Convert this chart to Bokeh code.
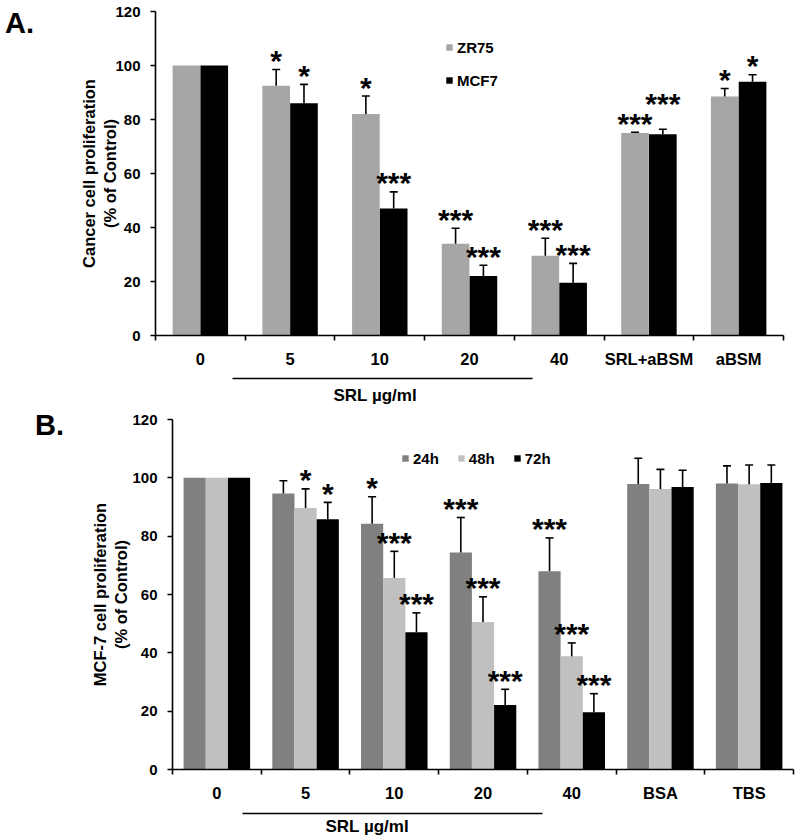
import numpy as np
from bokeh.plotting import figure
from bokeh.models import (ColumnDataSource, Whisker, TeeHead, FixedTicker, Legend,
                          LegendItem, LinearAxis, Range1d, Title, Div)
from bokeh.layouts import column, row
from bokeh.embed import file_html
from bokeh.resources import INLINE
from bokeh.core.properties import value

FONT = "Liberation Sans"

# ---------------- Panel A data ----------------
a_categories = ["0", "5", "10", "20", "40", "SRL+aBSM", "aBSM"]
a_series = ["ZR75", "MCF7"]
zr75 = [100, 92.5, 82.0, 34.0, 29.5, 75.0, 88.5]
zr75_err = [0, 6.0, 6.7, 5.7, 6.5, 0.3, 3.0]
zr75_sig = ["", "*", "*", "***", "***", "***", "*"]
mcf7 = [100, 86.0, 47.0, 22.0, 19.5, 74.5, 94.0]
mcf7_err = [0, 7.0, 6.2, 4.0, 7.2, 1.9, 2.6]
mcf7_sig = ["", "*", "***", "***", "***", "***", "*"]

# ---------------- Panel B data ----------------
b_categories = ["0", "5", "10", "20", "40", "BSA", "TBS"]
b_series = ["24h", "48h", "72h"]
h24 = [100, 94.6, 84.3, 74.4, 68.0, 97.9, 98.1]
h24_err = [0, 4.4, 9.2, 12.0, 11.4, 8.8, 6.0]
h24_sig = ["", "", "*", "***", "***", "", ""]
h48 = [100, 89.7, 65.7, 50.6, 38.8, 96.2, 97.8]
h48_err = [0, 6.5, 9.1, 8.6, 4.6, 6.7, 6.6]
h48_sig = ["", "*", "***", "***", "***", "", ""]
h72 = [100, 85.8, 47.1, 22.1, 19.6, 96.9, 98.2]
h72_err = [0, 5.8, 6.6, 5.4, 6.4, 5.7, 6.2]
h72_sig = ["", "*", "***", "***", "***", "", ""]

y_ticks = [0, 20, 40, 60, 80, 100, 120]
group_label = "SRL µg/ml"

STAR_PX = 11.7   # approx. advance of one bold 30px asterisk


def make_panel(cats, series, values, errs, sigs, colors, bar_w, offsets,
               width, height, left, right, top, bottom, ylabel, ylabel_standoff,
               group_span, pad_font, title_offset, title_standoff):
    n = len(cats)
    frame_w = width - left - right
    frame_h = height - top - bottom
    ppx = frame_w / n
    ppy = frame_h / 120.0
    p = figure(width=width, height=height, x_range=Range1d(0, n),
               y_range=Range1d(0, 120), output_backend="svg",
               toolbar_location=None, min_border_left=left,
               min_border_right=right, min_border_top=top,
               min_border_bottom=bottom)
    p.xgrid.visible = False
    p.ygrid.visible = False
    p.outline_line_color = None
    p.background_fill_color = "white"
    p.border_fill_color = "white"

    centers = np.arange(n) + 0.5
    renderers = []
    star_x, star_y, star_t = [], [], []
    last_star = {}
    for s, vals, er, sg, col, off in zip(series, values, errs, sigs, colors, offsets):
        xs = centers + off
        r = p.vbar(x=xs, top=vals, width=bar_w, bottom=0, fill_color=col,
                   line_color=None)
        renderers.append((s, r))
        keep = [i for i in range(n) if er[i] > 0]
        src = ColumnDataSource(dict(
            x=[xs[i] for i in keep],
            lower=[vals[i] for i in keep],
            upper=[vals[i] + er[i] for i in keep]))
        w = Whisker(base="x", lower="lower", upper="upper", source=src,
                    line_color="black", line_width=1.6,
                    upper_head=TeeHead(size=8, line_color="black", line_width=1.6),
                    lower_head=None, level="overlay")
        p.add_layout(w)
        for i in range(n):
            if not sg[i]:
                continue
            y = vals[i] + er[i]
            if i in last_star:
                px, py, pt = last_star[i]
                need = (len(pt) + len(sg[i])) * STAR_PX / 2.0
                if abs(xs[i] - px) * ppx < need and abs(y - py) * ppy < 18:
                    y = py + 20.0 / ppy   # stagger overlapping labels upward
            star_x.append(xs[i])
            star_y.append(y)
            star_t.append(sg[i])
            last_star[i] = (xs[i], y, sg[i])

    p.text(x=star_x, y=star_y, text=star_t, text_align="center",
           text_baseline="alphabetic", text_font=value(FONT),
           text_font_style="bold", text_font_size="30px", y_offset=-9,
           text_color="black")

    # y axis
    ya = p.yaxis[0]
    ya.ticker = FixedTicker(ticks=y_ticks)
    ya.major_tick_out = 5
    ya.major_tick_in = 0
    ya.minor_tick_line_color = None
    ya.axis_line_width = 1.6
    ya.major_tick_line_width = 1.6
    ya.axis_line_color = "black"
    ya.major_label_text_font = FONT
    ya.major_label_text_font_style = "bold"
    ya.major_label_text_font_size = "15px"
    ya.major_label_text_color = "black"
    ya.major_label_standoff = 10
    ya.axis_label = ylabel
    ya.axis_label_text_font = FONT
    ya.axis_label_text_font_style = "bold"
    ya.axis_label_text_font_size = "16.5px"
    ya.axis_label_text_color = "black"
    ya.axis_label_standoff = ylabel_standoff

    # x axis: labels at category centres, ticks at boundaries
    xa = p.xaxis[0]
    xa.ticker = FixedTicker(ticks=list(centers), minor_ticks=list(range(n + 1)))
    xa.major_label_overrides = {float(c): lab for c, lab in zip(centers, cats)}
    xa.major_tick_line_color = None
    xa.major_tick_out = 5
    xa.major_tick_in = 0
    xa.minor_tick_out = 5
    xa.minor_tick_in = 0
    xa.minor_tick_line_color = "black"
    xa.minor_tick_line_width = 1.6
    xa.axis_line_width = 1.6
    xa.axis_line_color = "black"
    xa.major_label_text_font = FONT
    xa.major_label_text_font_style = "bold"
    xa.major_label_text_font_size = "16.5px"
    xa.major_label_text_color = "black"
    xa.major_label_standoff = 9
    # small blank spacer label so the group rule sits a little lower
    xa.axis_label = " "
    xa.axis_label_text_font_size = pad_font
    xa.axis_label_standoff = 0

    # group rule under the SRL concentrations
    ga = LinearAxis(bounds=group_span, ticker=FixedTicker(ticks=[]),
                    axis_line_width=1.4, axis_line_color="black",
                    major_tick_line_color=None, minor_tick_line_color=None,
                    major_tick_out=0, major_tick_in=0, minor_tick_out=0,
                    minor_tick_in=0, major_label_text_font_size="0px",
                    major_label_standoff=0)
    p.add_layout(ga, "below")
    p.add_layout(Title(text=group_label, align="left", offset=title_offset,
                       standoff=title_standoff, text_font=FONT,
                       text_font_style="bold", text_font_size="17px",
                       text_color="black"), "below")
    return p, renderers


# ---------------- Panel A ----------------
pA, rA = make_panel(a_categories, a_series, [zr75, mcf7], [zr75_err, mcf7_err],
                    [zr75_sig, mcf7_sig], ["#a6a6a6", "#000000"], 0.308,
                    [-0.155, 0.155], 758, 410, 115, 15, 11, 68,
                    "Cancer cell proliferation\n(% of Control)", -7,
                    (0.855, 4.2), "4.5px", 178, 11)
legA = Legend(items=[LegendItem(label=s, renderers=[r]) for s, r in rA],
              location=(290, 245), orientation="vertical", padding=0, margin=0,
              spacing=13, glyph_width=8, glyph_height=8, label_standoff=4,
              label_height=20, border_line_color=None, background_fill_alpha=0,
              label_text_font=FONT, label_text_font_style="bold",
              label_text_font_size="15px", label_text_color="black")
pA.add_layout(legA)

# ---------------- Panel B ----------------
pB, rB = make_panel(b_categories, b_series, [h24, h48, h72],
                    [h24_err, h48_err, h72_err], [h24_sig, h48_sig, h72_sig],
                    ["#808080", "#c0c0c0", "#000000"], 0.25, [-0.25, 0.0, 0.25],
                    728, 426, 102, 5, 9, 67,
                    "MCF-7 cell proliferation\n(% of Control)", -1,
                    (0.786, 4.17), "6px", 153, 2)
legB = Legend(items=[LegendItem(label=s, renderers=[r]) for s, r in rB],
              location=(229, 301), orientation="horizontal", padding=0, margin=0,
              spacing=18, glyph_width=8, glyph_height=8, label_standoff=4,
              label_height=20, border_line_color=None, background_fill_alpha=0,
              label_text_font=FONT, label_text_font_style="bold",
              label_text_font_size="15px", label_text_color="black")
pB.add_layout(legB)

lab_style = ("font-family:'Liberation Sans';font-weight:bold;font-size:29px;"
             "line-height:29px;color:black;")
divA = Div(text=f'<div style="{lab_style}padding-top:9px;padding-left:5px;">A.</div>',
           width=40, height=50, margin=0)
divB = Div(text=f'<div style="{lab_style}padding-top:1px;padding-left:35px;">B.</div>',
           width=70, height=50, margin=0)

layout = column(row(divA, pA, spacing=0), row(divB, pB, spacing=0), spacing=0)
open("out.html", "w").write(file_html(layout, INLINE))
